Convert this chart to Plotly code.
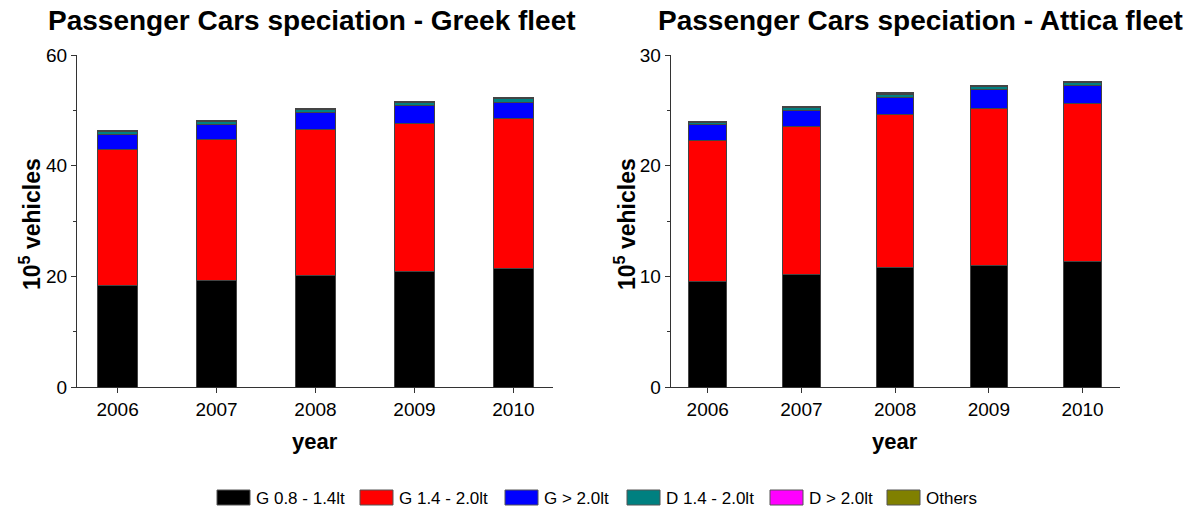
import plotly.graph_objects as go

# Fleet composition by engine class, in 10^5 vehicles
years = [2006, 2007, 2008, 2009, 2010]
series_names = ["G 0.8 - 1.4lt", "G 1.4 - 2.0lt", "G > 2.0lt", "D 1.4 - 2.0lt", "D > 2.0lt", "Others"]
series_colors = ["#000000", "#FF0000", "#0000FF", "#008080", "#FF00FF", "#808000"]

greek_g08_14 = [18.3, 19.2, 20.2, 20.9, 21.4]
greek_g14_20 = [24.6, 25.5, 26.4, 26.8, 27.1]
greek_g20 = [2.8, 2.8, 3.0, 3.1, 3.0]
greek_d14_20 = [0.5, 0.55, 0.6, 0.6, 0.65]
greek_d20 = [0.05, 0.05, 0.05, 0.06, 0.06]
greek_others = [0.15, 0.15, 0.15, 0.15, 0.2]

attica_g08_14 = [9.5, 10.2, 10.8, 11.0, 11.3]
attica_g14_20 = [12.8, 13.3, 13.8, 14.2, 14.3]
attica_g20 = [1.4, 1.5, 1.6, 1.7, 1.6]
attica_d14_20 = [0.2, 0.25, 0.25, 0.25, 0.3]
attica_d20 = [0.03, 0.03, 0.03, 0.03, 0.03]
attica_others = [0.07, 0.1, 0.1, 0.1, 0.1]

greek_series = [greek_g08_14, greek_g14_20, greek_g20, greek_d14_20, greek_d20, greek_others]
attica_series = [attica_g08_14, attica_g14_20, attica_g20, attica_d14_20, attica_d20, attica_others]

W, H = 1195, 513
# plot area in pixels
L, R, T, B = 77, 1120, 55, 387
FONT = "Liberation Sans, Arial, sans-serif"


def px(x):
    return (x - L) / (R - L)


def py(y):
    return (B - y) / (B - T)


fig = go.Figure()
for vals_list, xa, ya in [(greek_series, "x", "y"), (attica_series, "x2", "y2")]:
    for name, color, vals in zip(series_names, series_colors, vals_list):
        fig.add_trace(go.Bar(
            x=years, y=vals, name=name, xaxis=xa, yaxis=ya,
            width=0.4, showlegend=False,
            marker=dict(color=color, line=dict(color="#444444", width=1)),
        ))

axis_common = dict(
    showline=True, linecolor="#333333", linewidth=1, showgrid=False, zeroline=False,
    ticks="outside", ticklen=5, tickcolor="#333333", tickwidth=1, automargin=False,
    tickfont=dict(family=FONT, size=19, color="#000000"),
)

fig.update_layout(
    width=W, height=H, barmode="stack",
    paper_bgcolor="white", plot_bgcolor="white",
    margin=dict(l=L, r=W - R, t=T, b=H - B, autoexpand=False),
    showlegend=False,
    xaxis=dict(domain=[0, px(553)], range=[2005.59, 2010.40],
               tickvals=years, anchor="y", **axis_common),
    yaxis=dict(domain=[0, 1], range=[0, 60], tickvals=[0, 20, 40, 60],
               anchor="x", minor=dict(ticks="outside", ticklen=3, dtick=10, tickcolor="#333333"),
               **axis_common),
    xaxis2=dict(domain=[px(670.7), 1], range=[2005.605, 2010.40],
                tickvals=years, anchor="y2", **axis_common),
    yaxis2=dict(domain=[0, 1], range=[0, 30], tickvals=[0, 10, 20, 30],
                anchor="x2", minor=dict(ticks="outside", ticklen=3, dtick=5, tickcolor="#333333"),
                **axis_common),
)

annotations = []
shapes = []

# Panel titles
for text, cx in [("Passenger Cars speciation - Greek fleet", 312),
                 ("Passenger Cars speciation - Attica fleet", 920)]:
    annotations.append(dict(text=f"<b>{text}</b>", x=px(cx), y=py(20), xref="paper", yref="paper",
                            showarrow=False, xanchor="center", yanchor="middle",
                            font=dict(family=FONT, size=28, color="#000000")))

# Axis titles
for cx in [30, 625]:
    annotations.append(dict(text="<b>10<sup>5</sup> vehicles</b>", x=px(cx), y=py(224),
                            xref="paper", yref="paper", showarrow=False, textangle=-90,
                            xanchor="center", yanchor="middle",
                            font=dict(family=FONT, size=23, color="#000000")))
for cx in [315, 895]:
    annotations.append(dict(text="<b>year</b>", x=px(cx), y=py(441), xref="paper", yref="paper",
                            showarrow=False, xanchor="center", yanchor="middle",
                            font=dict(family=FONT, size=22, color="#000000")))

# Legend row along the bottom
legend_x = [217, 360, 505, 627, 770, 887]
for name, color, lx in zip(series_names, series_colors, legend_x):
    shapes.append(dict(type="rect", xref="paper", yref="paper",
                       x0=px(lx), x1=px(lx + 33), y0=py(505), y1=py(490),
                       fillcolor=color, line=dict(color="#555555", width=1)))
    annotations.append(dict(text=name, x=px(lx + 37), y=py(498), xref="paper", yref="paper",
                            showarrow=False, xanchor="left", yanchor="middle",
                            font=dict(family=FONT, size=17, color="#000000")))

fig.update_layout(annotations=annotations, shapes=shapes)
fig.write_html("out.html")
